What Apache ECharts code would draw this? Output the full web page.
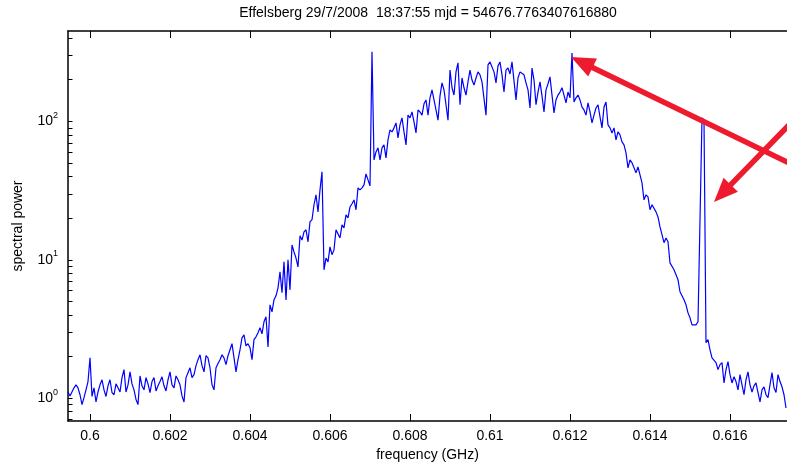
<!DOCTYPE html>
<html><head><meta charset="utf-8">
<script src="https://cdn.jsdelivr.net/npm/echarts@6/dist/echarts.min.js"></script>
<style>html,body{margin:0;padding:0;background:#fff}#c{width:787px;height:463px}</style>
</head><body><div id="c"></div>
<script>
const titleText = 'Effelsberg 29/7/2008  18:37:55 mjd = 54676.7763407616880';
const xName = 'frequency (GHz)';
const yName = 'spectral power';
// channel grid of the spectrometer
const channelStart = 0.59945;
const channelWidth = 0.00005;
// spectral power per channel
const powerA = [1.11,1.04,1.01,1.19,1.25,1.19,1.06,0.90,1.01,1.15,1.32,1.96,1.03,1.19,0.94,1.11,1.25,1.36,1.15,1.03,
1.23,1.36,1.10,1.06,1.27,1.19,1.11,1.41,1.61,1.11,1.25,1.55,1.27,1.15,0.98,0.90,1.45,1.23,1.15,1.41,
1.27,1.10,1.32,1.41,1.13,1.23,1.32,1.43,1.23,1.13,1.36,1.55,1.25,1.19,1.45,1.36,1.25,1.04,0.94,1.41,
1.53,1.66,1.41,1.48,1.72,1.90,2.06,1.72,1.55,2.03,1.96,1.66,1.25,1.15,1.66,1.78,1.90,2.06,1.96,1.75,
2.03,2.24,2.48,2.56,1.55,1.90,2.24,2.73,2.87,2.39,2.48,2.32];
const powerB = [1.90,2.65,2.78,2.97,3.23,2.92,3.57,3.88,2.35,4.73,4.21,5.14,5.50,6.28,8.19,5.78,9.67,5.14,10.0,6.07,
12.8,11.4,10.3,8.90,14.9,13.9,15.9,16.5,13.5,18.8,19.5,25.0,29.5,22.2,32.0,43.2,8.47,10.3,9.67,12.4,
10.9,11.8,16.5,15.4,14.4,17.9,17.0,21.1,20.1,24.1,25.4,27.1,23.0,33.1,32.0,33.1,34.8,41.8,37.8,34.2,
318];
const powerC = [52.7,60.2,64.4,52.7,64.4,67.7,54.5,73.5,86.9,84.0,89.8,97.5,76.0,94.3,106,84.0,67.7,111,106,117,
99.2,82.6,121,117,111,134,143,111,148,169,143,121,102,153,190,169,132,102,235,175,
155,228,265,132,206,175,155,193,235,199,183,206,228,217,193,193,111,256,269,278,
228,190,252,269,217,163,235,243,220,269,278,143,206,228,235,217,190,169,125,243,
199,132,163,193,153,117,169,187,210,155,115,143,155,163,175,155,136,163,148,312];
const powerD = [138,148,155,143,127,121,111,136,117,97.5,111,125,132,108,89.8,127,138,94.3,89.8,82.6,
89.8,73.5,84.0,79.9,71.1,67.7,59.2,46.2,52.7,50.2,46.2,42.5,46.9,41.1,36.0,27.1,29.5,28.5,23.0,25.0,
25.8,22.2,20.4,17.3,15.2,13.3,14.4,13.5,9.51,9.20,8.47,7.80,7.17,5.88,6.07,5.14,4.73,4.14,3.81,3.39,
3.28,3.39,3.57,3.51,106,102,2.52,2.65,2.24,1.96,1.90,1.81,1.61,1.75,1.81,1.29,1.61,1.84,1.48,1.29,
1.43,1.32,1.15,1.48,1.25,1.06,1.36,1.55,1.25,1.11,1.23,1.29,1.10,0.94,1.15,1.21,1.06,1.01,1.25,1.53,
1.19,1.10,1.48,1.32,1.21,1.06,0.85];
const xTicks = [0.6, 0.602, 0.604, 0.606, 0.608, 0.61, 0.612, 0.614, 0.616];
const yMajorTicks = [1, 10, 100];
const yAllTicks = [0.7,0.8,0.9,1,2,3,4,5,6,7,8,9,10,20,30,40,50,60,70,80,90,100,200,300,400];
const xMin = 0.59945, xMax = 0.617425;
const yMin = 0.685, yMax = 450;

const power = powerA.concat(powerB, powerC, powerD);
const seriesData = power.map((p, i) => [channelStart + i * channelWidth, p]);

const FONT = "'Liberation Sans', Arial, Helvetica, sans-serif";
const RED = '#ee1a2e';

function arrow(tip, dir, color) {
  const len = Math.hypot(dir[0], dir[1]);
  const ux = dir[0] / len, uy = dir[1] / len;
  const L = 24, W = 10;
  const bx = tip[0] + ux * L, by = tip[1] + uy * L;
  const tail = [tip[0] + ux * 400, tip[1] + uy * 400];
  return [
    { type: 'line', shape: { x1: tail[0], y1: tail[1], x2: bx - ux * 3, y2: by - uy * 3 },
      style: { stroke: color, lineWidth: 5.5 }, z: 100 },
    { type: 'polygon', shape: { points: [tip, [bx - uy * W, by + ux * W], [bx + uy * W, by - ux * W]] },
      style: { fill: color }, z: 100 }
  ];
}

const chart = echarts.init(document.getElementById('c'), null, { renderer: 'canvas' });
chart.setOption({
  animation: false,
  backgroundColor: '#fff',
  title: {
    text: titleText, left: 428, top: 6, textAlign: 'center', padding: 0,
    textStyle: { fontFamily: FONT, fontSize: 14, fontWeight: 'normal', color: '#000' }
  },
  grid: { left: 68, right: 0, top: 31, bottom: 42, containLabel: false, outerBoundsMode: 'none' },
  xAxis: [{
    type: 'value', min: xMin, max: xMax, position: 'bottom',
    axisLine: { show: true, lineStyle: { color: '#000', width: 1.5 } },
    axisTick: { show: true, inside: true, length: 7, customValues: xTicks, lineStyle: { color: '#000', width: 1 } },
    axisLabel: { customValues: xTicks, formatter: v => String(+v.toFixed(3)), color: '#000',
      fontFamily: FONT, fontSize: 14, margin: 8 },
    splitLine: { show: false },
    name: xName, nameLocation: 'middle', nameGap: 25,
    nameTextStyle: { fontFamily: FONT, fontSize: 14, color: '#000' }
  }, {
    type: 'value', min: xMin, max: xMax, position: 'top',
    axisLine: { show: true, lineStyle: { color: '#000', width: 1.5 } },
    axisTick: { show: true, inside: true, length: 7, customValues: xTicks, lineStyle: { color: '#000', width: 1 } },
    axisLabel: { show: false },
    splitLine: { show: false }
  }],
  yAxis: [{
    type: 'log', logBase: 10, min: yMin, max: yMax, position: 'left',
    axisLine: { show: true, lineStyle: { color: '#000', width: 1.5 } },
    axisTick: { show: true, inside: true, length: 4.5, customValues: yAllTicks, lineStyle: { color: '#000', width: 1 } },
    axisLabel: {
      customValues: yMajorTicks, margin: 10,
      formatter: v => '{b|10}{s|' + Math.round(Math.log10(v)) + '}',
      rich: {
        b: { fontFamily: FONT, fontSize: 14, color: '#000' },
        s: { fontFamily: FONT, fontSize: 9, color: '#000', padding: [0, 0, 12, 0] }
      }
    },
    splitLine: { show: false },
    minorTick: { show: false },
    name: yName, nameLocation: 'middle', nameGap: 43,
    nameTextStyle: { fontFamily: FONT, fontSize: 14, color: '#000' }
  }],
  series: [{
    type: 'line', data: seriesData, showSymbol: false, symbol: 'none',
    lineStyle: { color: '#0000ff', width: 1.2 }, sampling: null, silent: true
  }],
  graphic: [].concat(
    arrow([571, 57], [216, 105], RED),
    arrow([714, 202], [73, -75], RED)
  )
});
</script></body></html>
